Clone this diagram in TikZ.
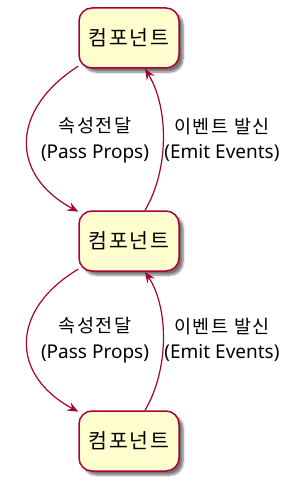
\documentclass[tikz,border=0pt]{standalone}
\usepackage{fontspec}
\setmainfont{Noto Sans}
\newfontfamily\kr[LetterSpace=8]{Noto Sans CJK KR}
\usetikzlibrary{arrows.meta,shadows.blur}
\definecolor{plborder}{HTML}{A80036}
\definecolor{plfill}{HTML}{FEFECE}
\tikzset{
  comp/.style={draw=plborder, fill=plfill, line width=1.5pt, rounded corners=13pt,
    minimum width=100pt, minimum height=60pt, inner sep=0pt,
    font=\kr\fontsize{20.5}{24}\selectfont,
    blur shadow={shadow xshift=4pt, shadow yshift=-4pt, shadow blur steps=6, shadow opacity=55}},
  flow/.style={draw=plborder, line width=1.2pt, -{Stealth[length=11pt,width=9pt,inset=4pt,fill=plborder]}},
  lbl/.style={align=center, font=\fontsize{19}{25.5}\selectfont, inner sep=0pt},
  krlbl/.style={}
}
\newcommand{\krl}{\kr\fontsize{18.5}{25.5}\selectfont}
\begin{document}
\begin{tikzpicture}[x=1pt,y=-1pt]
\useasboundingbox (0,0) rectangle (300,487);
\node[comp] (n1) at (129,38) {컴포넌트};
\node[comp] (n2) at (129,241) {컴포넌트};
\node[comp] (n3) at (129,441) {컴포넌트};
% labels
\node[lbl] (l1) at (95,140) {{\krl 속성전달}\\(Pass Props)};
\node[lbl] (r1) at (222,140) {{\krl 이벤트 발신}\\(Emit Events)};
\node[lbl] (l2) at (95,340) {{\krl 속성전달}\\(Pass Props)};
\node[lbl] (r2) at (222,340) {{\krl 이벤트 발신}\\(Emit Events)};
% edges
\draw[flow] (n1.209) .. controls (10,110) and (10,175) .. (n2.150);
\draw[flow] ([xshift=16pt]n2.north) .. controls (169,170) and (169,108) .. ([xshift=16pt]n1.south);
\draw[flow] (n2.209) .. controls (10,310) and (10,375) .. (n3.150);
\draw[flow] ([xshift=16pt]n3.north) .. controls (169,370) and (169,308) .. ([xshift=16pt]n2.south);
\end{tikzpicture}
\end{document}
